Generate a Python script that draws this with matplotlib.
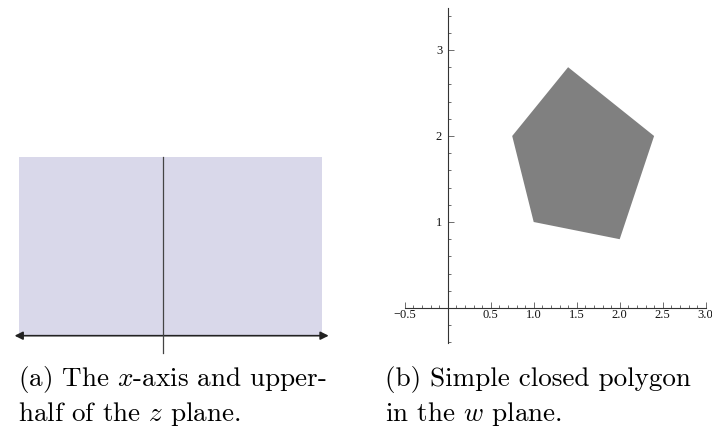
import matplotlib
matplotlib.use('Agg')
import numpy as np
from matplotlib import pyplot as plt
from matplotlib.patches import Polygon, Rectangle, FancyArrowPatch
from matplotlib.ticker import MultipleLocator, FixedLocator

plt.rcParams['mathtext.fontset'] = 'cm'
plt.rcParams['axes.unicode_minus'] = True

# data
half_plane_x = [-0.95, 1.05]   # shaded upper half (left panel)
half_plane_top = 1.18
arrow_x = [-1.0, 1.11]
poly_x = [0.75, 1.4, 2.4, 2.0, 1.0]
poly_y = [2.0, 2.8, 2.0, 0.8, 1.0]
xticks_b = [-0.5, 0.5, 1.0, 1.5, 2.0, 2.5, 3.0]
yticks_b = [1, 2, 3]
captions = {
    'a': ['(a) The $x$-axis and upper-', 'half of the $z$ plane.'],
    'b': ['(b) Simple closed polygon', 'in the $w$ plane.'],
}

W, H = 712, 428
fig = plt.figure(figsize=(W / 100, H / 100), dpi=100)


def px_axes(x0, y0, x1, y1):
    # pixel box (top-left origin) -> figure axes
    return fig.add_axes([x0 / W, 1 - y1 / H, (x1 - x0) / W, (y1 - y0) / H])


# ---- (a) upper half plane ----
s = 151.5  # px per unit
cx, cy = 163.3, 335.7
ax1 = px_axes(0, 140, 350, 360)
ax1.set_xlim(-cx / s, (350 - cx) / s)
ax1.set_ylim(-(360 - cy) / s, (cy - 140) / s)
ax1.axis('off')
ax1.add_patch(Rectangle((half_plane_x[0], 0), half_plane_x[1] - half_plane_x[0], half_plane_top,
                        facecolor='#d9d8ea', edgecolor='none'))
ax1.plot([0, 0], [-0.115, half_plane_top], color='#444444', lw=0.9)
ax1.add_patch(FancyArrowPatch((arrow_x[0], 0), (arrow_x[1], 0), arrowstyle='<|-|>',
                              mutation_scale=12, color='#222222', lw=1.2))

# ---- (b) polygon in w plane ----
sb = 86.0
ox, oy = 447.7, 308.0
xl, xr = -0.55, 3.05
yb, yt = -0.45, 3.55
ax2 = px_axes(ox + xl * sb, oy - yt * sb, ox + xr * sb, oy - yb * sb)
ax2.set_xlim(xl, xr)
ax2.set_ylim(yb, yt)
ax2.add_patch(Polygon(np.column_stack([poly_x, poly_y]), closed=True,
                      facecolor='#808080', edgecolor='none'))
for side in ['top', 'right']:
    ax2.spines[side].set_visible(False)
ax2.spines['left'].set_position(('data', 0))
ax2.spines['bottom'].set_position(('data', 0))
ax2.spines['left'].set_bounds(-0.41, 3.49)
ax2.spines['bottom'].set_bounds(-0.5, 3.0)
for sp in ['left', 'bottom']:
    ax2.spines[sp].set_color('#333333')
    ax2.spines[sp].set_linewidth(0.8)
ax2.xaxis.set_major_locator(FixedLocator(xticks_b))
ax2.xaxis.set_minor_locator(MultipleLocator(0.1))
ax2.yaxis.set_major_locator(FixedLocator(yticks_b))
ax2.yaxis.set_minor_locator(MultipleLocator(0.2))
ax2.set_xticklabels(['\u2212' + ('%.1f' % -v) if v < 0 else '%.1f' % v for v in xticks_b])
ax2.set_yticklabels([str(v) for v in yticks_b])
ax2.tick_params(which='both', direction='in', color='#555555', width=0.6,
                labelsize=9, labelcolor='#111111')
ax2.tick_params(axis='x', pad=1)
ax2.tick_params(axis='y', pad=4)
ax2.tick_params(which='major', length=4)
ax2.tick_params(which='minor', length=2)
for lab in ax2.get_xticklabels() + ax2.get_yticklabels():
    lab.set_fontfamily('Liberation Serif')
ax2.patch.set_visible(False)

# ---- captions ----
cap_font = dict(family='cmr10', fontsize=19.5, va='baseline', ha='left')
fig.text(18 / W, 1 - 386 / H, captions['a'][0], **cap_font)
fig.text(18 / W, 1 - 421 / H, captions['a'][1], **cap_font)
fig.text(385 / W, 1 - 386 / H, captions['b'][0], **cap_font)
fig.text(385 / W, 1 - 421 / H, captions['b'][1], **cap_font)

plt.savefig('out.png', dpi=100)
